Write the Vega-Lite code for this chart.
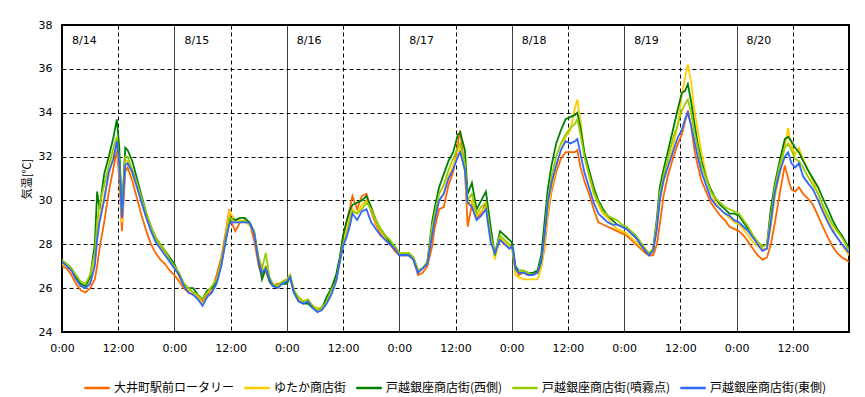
{
  "$schema": "https://vega.github.io/schema/vega-lite/v6.json",
  "width": 787,
  "height": 307,
  "autosize": "none",
  "padding": {"left": 62, "top": 25, "right": 16, "bottom": 65},
  "background": "white",
  "config": {
    "view": {"stroke": "black", "strokeWidth": 2},
    "font": "DejaVu Sans"
  },
  "datasets": {
    "temps": [
      {"t":0,"a":27.0,"b":27.1,"c":27.2,"d":27.3,"e":27.2},
      {"t":1,"a":26.9,"b":27.0,"c":27.1,"d":27.1,"e":27.0},
      {"t":2,"a":26.6,"b":26.8,"c":26.9,"d":26.9,"e":26.8},
      {"t":3,"a":26.2,"b":26.4,"c":26.5,"d":26.6,"e":26.4},
      {"t":4,"a":25.9,"b":26.1,"c":26.2,"d":26.3,"e":26.1},
      {"t":5,"a":25.8,"b":26.0,"c":26.1,"d":26.2,"e":26.0},
      {"t":6,"a":26.0,"b":26.3,"c":26.5,"d":26.6,"e":26.2},
      {"t":7,"a":26.4,"b":27.2,"c":28.0,"d":27.6,"e":27.0},
      {"t":7.5,"a":27.0,"b":28.5,"c":30.4,"d":29.0,"e":28.2},
      {"t":8,"a":27.8,"b":29.2,"c":29.6,"d":29.8,"e":29.0},
      {"t":9,"a":29.0,"b":30.2,"c":31.2,"d":30.7,"e":30.0},
      {"t":10,"a":30.4,"b":31.2,"c":32.0,"d":31.6,"e":31.3},
      {"t":11,"a":31.5,"b":32.1,"c":32.9,"d":32.4,"e":31.9},
      {"t":11.7,"a":32.3,"b":32.6,"c":33.7,"d":32.9,"e":32.7},
      {"t":12.2,"a":31.0,"b":31.5,"c":32.5,"d":31.8,"e":31.8},
      {"t":12.8,"a":28.6,"b":29.0,"c":29.5,"d":29.3,"e":29.2},
      {"t":13.5,"a":31.3,"b":31.8,"c":32.4,"d":32.0,"e":31.6},
      {"t":14,"a":31.5,"b":31.8,"c":32.3,"d":32.0,"e":31.7},
      {"t":15,"a":30.9,"b":31.2,"c":31.8,"d":31.4,"e":31.3},
      {"t":16,"a":30.1,"b":30.6,"c":31.0,"d":30.8,"e":30.6},
      {"t":17,"a":29.3,"b":29.9,"c":30.2,"d":30.1,"e":29.9},
      {"t":18,"a":28.6,"b":29.2,"c":29.4,"d":29.4,"e":29.2},
      {"t":19,"a":28.0,"b":28.7,"c":28.8,"d":28.8,"e":28.6},
      {"t":20,"a":27.6,"b":28.2,"c":28.3,"d":28.3,"e":28.1},
      {"t":21,"a":27.3,"b":27.9,"c":28.0,"d":28.0,"e":27.8},
      {"t":22,"a":27.1,"b":27.6,"c":27.7,"d":27.7,"e":27.5},
      {"t":23,"a":26.8,"b":27.3,"c":27.4,"d":27.3,"e":27.2},
      {"t":24,"a":26.6,"b":27.0,"c":27.1,"d":27.0,"e":26.9},
      {"t":25,"a":26.3,"b":26.5,"c":26.6,"d":26.7,"e":26.6},
      {"t":26,"a":26.0,"b":26.1,"c":26.2,"d":26.2,"e":26.1},
      {"t":27,"a":25.8,"b":25.9,"c":26.0,"d":26.0,"e":25.8},
      {"t":28,"a":25.7,"b":25.8,"c":26.0,"d":25.8,"e":25.7},
      {"t":29,"a":25.6,"b":25.6,"c":25.7,"d":25.7,"e":25.5},
      {"t":30,"a":25.4,"b":25.3,"c":25.5,"d":25.5,"e":25.2},
      {"t":31,"a":25.7,"b":25.6,"c":25.9,"d":25.8,"e":25.6},
      {"t":32,"a":25.9,"b":25.8,"c":26.0,"d":26.1,"e":25.8},
      {"t":33,"a":26.6,"b":26.3,"c":26.3,"d":26.4,"e":26.2},
      {"t":34,"a":27.4,"b":27.1,"c":27.1,"d":27.2,"e":27.0},
      {"t":35,"a":28.6,"b":28.4,"c":28.3,"d":28.3,"e":28.2},
      {"t":35.7,"a":29.6,"b":29.5,"c":29.0,"d":29.2,"e":28.9},
      {"t":36,"a":29.1,"b":29.4,"c":29.2,"d":29.2,"e":29.0},
      {"t":37,"a":28.6,"b":29.1,"c":29.1,"d":29.0,"e":29.0},
      {"t":38,"a":29.0,"b":29.1,"c":29.2,"d":29.0,"e":29.0},
      {"t":39,"a":29.1,"b":29.0,"c":29.2,"d":29.1,"e":29.0},
      {"t":40,"a":29.0,"b":28.9,"c":29.0,"d":28.9,"e":29.0},
      {"t":41,"a":28.2,"b":28.5,"c":28.6,"d":28.6,"e":28.5},
      {"t":42,"a":27.0,"b":27.3,"c":27.2,"d":27.4,"e":27.2},
      {"t":42.7,"a":26.6,"b":26.8,"c":26.4,"d":26.9,"e":26.7},
      {"t":43.5,"a":26.8,"b":27.0,"c":26.9,"d":27.6,"e":26.9},
      {"t":44.3,"a":26.3,"b":26.4,"c":26.3,"d":26.5,"e":26.4},
      {"t":45,"a":26.1,"b":26.2,"c":26.1,"d":26.2,"e":26.1},
      {"t":46,"a":26.2,"b":26.1,"c":26.1,"d":26.1,"e":26.0},
      {"t":47,"a":26.2,"b":26.3,"c":26.2,"d":26.3,"e":26.2},
      {"t":48,"a":26.3,"b":26.3,"c":26.2,"d":26.4,"e":26.3},
      {"t":48.7,"a":26.5,"b":26.6,"c":26.5,"d":26.6,"e":26.5},
      {"t":49.5,"a":25.9,"b":25.9,"c":25.8,"d":25.9,"e":25.8},
      {"t":50.5,"a":25.5,"b":25.5,"c":25.4,"d":25.6,"e":25.4},
      {"t":51.5,"a":25.3,"b":25.3,"c":25.3,"d":25.4,"e":25.3},
      {"t":52.5,"a":25.4,"b":25.4,"c":25.3,"d":25.5,"e":25.4},
      {"t":53.5,"a":25.2,"b":25.2,"c":25.1,"d":25.2,"e":25.1},
      {"t":54.5,"a":25.0,"b":25.1,"c":25.0,"d":25.0,"e":24.9},
      {"t":55.5,"a":25.1,"b":25.1,"c":25.1,"d":25.1,"e":25.0},
      {"t":56.5,"a":25.4,"b":25.4,"c":25.6,"d":25.4,"e":25.3},
      {"t":57.5,"a":25.9,"b":25.8,"c":26.0,"d":25.9,"e":25.7},
      {"t":58.5,"a":26.5,"b":26.3,"c":26.6,"d":26.3,"e":26.3},
      {"t":59.3,"a":27.3,"b":27.2,"c":27.4,"d":27.2,"e":27.2},
      {"t":60,"a":28.3,"b":28.0,"c":28.4,"d":28.0,"e":27.9},
      {"t":60.7,"a":29.0,"b":28.6,"c":29.0,"d":28.4,"e":28.3},
      {"t":61.4,"a":29.6,"b":29.2,"c":29.5,"d":29.0,"e":28.8},
      {"t":62,"a":30.2,"b":29.6,"c":29.8,"d":29.5,"e":29.4},
      {"t":63,"a":29.6,"b":29.4,"c":29.9,"d":29.4,"e":29.1},
      {"t":64,"a":30.2,"b":29.8,"c":30.0,"d":29.6,"e":29.5},
      {"t":65,"a":30.3,"b":30.0,"c":30.2,"d":29.9,"e":29.6},
      {"t":66,"a":29.5,"b":29.6,"c":29.7,"d":29.6,"e":29.0},
      {"t":67,"a":28.9,"b":29.0,"c":29.1,"d":29.1,"e":28.7},
      {"t":68,"a":28.5,"b":28.6,"c":28.7,"d":28.7,"e":28.4},
      {"t":69,"a":28.2,"b":28.3,"c":28.4,"d":28.4,"e":28.2},
      {"t":70,"a":28.0,"b":28.1,"c":28.1,"d":28.2,"e":28.0},
      {"t":71,"a":27.7,"b":27.9,"c":27.9,"d":27.9,"e":27.8},
      {"t":72,"a":27.5,"b":27.6,"c":27.6,"d":27.6,"e":27.5},
      {"t":73,"a":27.5,"b":27.6,"c":27.5,"d":27.6,"e":27.5},
      {"t":74,"a":27.5,"b":27.6,"c":27.6,"d":27.6,"e":27.5},
      {"t":75,"a":27.3,"b":27.4,"c":27.4,"d":27.4,"e":27.3},
      {"t":76,"a":26.6,"b":26.8,"c":26.8,"d":26.8,"e":26.7},
      {"t":77,"a":26.7,"b":26.9,"c":26.9,"d":26.9,"e":26.9},
      {"t":78,"a":27.0,"b":27.2,"c":27.2,"d":27.2,"e":27.1},
      {"t":79,"a":27.9,"b":28.6,"c":29.0,"d":28.8,"e":28.4},
      {"t":79.5,"a":28.7,"b":29.2,"c":29.6,"d":29.3,"e":29.0},
      {"t":80.5,"a":29.6,"b":30.0,"c":30.6,"d":30.3,"e":30.0},
      {"t":81.5,"a":29.7,"b":30.3,"c":31.2,"d":30.7,"e":30.3},
      {"t":82.5,"a":30.7,"b":31.1,"c":31.8,"d":31.4,"e":31.0},
      {"t":83.5,"a":31.3,"b":31.6,"c":32.2,"d":31.9,"e":31.4},
      {"t":84.5,"a":32.6,"b":32.1,"c":33.0,"d":32.4,"e":32.0},
      {"t":85,"a":33.2,"b":32.4,"c":33.1,"d":32.6,"e":32.2},
      {"t":86,"a":31.4,"b":31.3,"c":32.3,"d":31.7,"e":31.4},
      {"t":86.6,"a":28.8,"b":29.8,"c":30.3,"d":30.0,"e":29.9},
      {"t":87.5,"a":29.8,"b":30.0,"c":30.8,"d":30.3,"e":29.7},
      {"t":88.5,"a":29.2,"b":29.3,"c":29.6,"d":29.4,"e":29.1},
      {"t":89.5,"a":29.4,"b":29.5,"c":30.0,"d":29.7,"e":29.3},
      {"t":90.5,"a":29.9,"b":29.7,"c":30.4,"d":29.9,"e":29.6},
      {"t":91.5,"a":28.3,"b":28.5,"c":28.8,"d":28.4,"e":28.1},
      {"t":92.4,"a":27.6,"b":27.3,"c":27.5,"d":27.6,"e":27.6},
      {"t":93.5,"a":28.2,"b":28.3,"c":28.6,"d":28.4,"e":28.2},
      {"t":94.5,"a":28.0,"b":28.1,"c":28.4,"d":28.2,"e":28.0},
      {"t":95.5,"a":27.9,"b":27.9,"c":28.2,"d":28.0,"e":27.8},
      {"t":96,"a":27.9,"b":27.9,"c":28.1,"d":27.9,"e":27.9},
      {"t":96.3,"a":27.6,"b":27.5,"c":27.8,"d":27.6,"e":27.7},
      {"t":96.8,"a":26.9,"b":26.6,"c":27.0,"d":26.8,"e":26.9},
      {"t":97.5,"a":26.6,"b":26.5,"c":26.8,"d":26.8,"e":26.7},
      {"t":98.5,"a":26.7,"b":26.4,"c":26.8,"d":26.8,"e":26.7},
      {"t":99.5,"a":26.6,"b":26.4,"c":26.7,"d":26.7,"e":26.6},
      {"t":100.5,"a":26.7,"b":26.4,"c":26.7,"d":26.6,"e":26.6},
      {"t":101.5,"a":26.7,"b":26.4,"c":26.8,"d":26.7,"e":26.7},
      {"t":102.3,"a":27.0,"b":26.9,"c":27.5,"d":27.2,"e":27.2},
      {"t":103,"a":27.8,"b":28.0,"c":29.0,"d":28.4,"e":28.4},
      {"t":103.7,"a":29.3,"b":29.5,"c":30.5,"d":30.0,"e":29.9},
      {"t":104.5,"a":30.4,"b":30.6,"c":31.6,"d":31.1,"e":30.8},
      {"t":105.5,"a":31.3,"b":31.5,"c":32.6,"d":32.0,"e":31.6},
      {"t":106.5,"a":31.9,"b":32.3,"c":33.2,"d":32.6,"e":32.3},
      {"t":107.5,"a":32.2,"b":32.9,"c":33.7,"d":33.0,"e":32.7},
      {"t":108.5,"a":32.2,"b":33.2,"c":33.8,"d":33.3,"e":32.6},
      {"t":109.5,"a":32.2,"b":34.2,"c":33.9,"d":33.5,"e":32.7},
      {"t":110,"a":32.3,"b":34.6,"c":34.0,"d":33.7,"e":32.8},
      {"t":110.7,"a":31.5,"b":33.6,"c":33.3,"d":33.0,"e":32.1},
      {"t":111.5,"a":30.9,"b":32.1,"c":32.2,"d":32.0,"e":31.3},
      {"t":112.5,"a":30.3,"b":31.1,"c":31.4,"d":31.2,"e":30.6},
      {"t":113.5,"a":29.6,"b":30.3,"c":30.6,"d":30.4,"e":29.9},
      {"t":114.5,"a":29.0,"b":29.8,"c":30.0,"d":29.9,"e":29.4},
      {"t":115.5,"a":28.9,"b":29.4,"c":29.6,"d":29.5,"e":29.2},
      {"t":116.5,"a":28.8,"b":29.2,"c":29.3,"d":29.3,"e":29.0},
      {"t":117.5,"a":28.7,"b":28.9,"c":29.1,"d":29.2,"e":28.9},
      {"t":118.5,"a":28.6,"b":28.7,"c":28.9,"d":29.1,"e":28.9},
      {"t":119.5,"a":28.5,"b":28.6,"c":28.8,"d":28.9,"e":28.8},
      {"t":120.5,"a":28.4,"b":28.5,"c":28.7,"d":28.8,"e":28.7},
      {"t":121.5,"a":28.2,"b":28.3,"c":28.5,"d":28.6,"e":28.5},
      {"t":122.5,"a":28.0,"b":28.1,"c":28.3,"d":28.4,"e":28.3},
      {"t":123.5,"a":27.8,"b":27.9,"c":28.0,"d":28.1,"e":28.0},
      {"t":124.5,"a":27.6,"b":27.7,"c":27.7,"d":27.8,"e":27.7},
      {"t":125.3,"a":27.5,"b":27.5,"c":27.5,"d":27.6,"e":27.5},
      {"t":126.2,"a":27.5,"b":27.7,"c":27.8,"d":27.8,"e":27.7},
      {"t":127,"a":28.0,"b":28.8,"c":29.2,"d":29.0,"e":28.7},
      {"t":127.6,"a":28.9,"b":30.0,"c":30.6,"d":30.3,"e":30.0},
      {"t":128.4,"a":30.2,"b":30.9,"c":31.4,"d":31.1,"e":30.9},
      {"t":129.3,"a":31.1,"b":31.6,"c":32.2,"d":31.9,"e":31.5},
      {"t":130.4,"a":31.9,"b":32.4,"c":33.2,"d":32.8,"e":32.2},
      {"t":131.5,"a":32.6,"b":33.5,"c":34.2,"d":33.5,"e":32.9},
      {"t":132.3,"a":33.0,"b":34.8,"c":34.9,"d":34.1,"e":33.2},
      {"t":133,"a":33.6,"b":35.6,"c":35.0,"d":34.4,"e":33.7},
      {"t":133.6,"a":34.1,"b":36.2,"c":35.3,"d":34.6,"e":34.0},
      {"t":134.3,"a":33.4,"b":35.4,"c":34.5,"d":34.0,"e":33.4},
      {"t":135,"a":32.3,"b":34.1,"c":33.5,"d":33.1,"e":32.7},
      {"t":135.7,"a":31.6,"b":33.2,"c":32.6,"d":32.4,"e":32.0},
      {"t":136.5,"a":30.9,"b":32.2,"c":31.8,"d":31.6,"e":31.3},
      {"t":137.5,"a":30.4,"b":31.2,"c":31.0,"d":31.0,"e":30.7},
      {"t":138.5,"a":29.9,"b":30.4,"c":30.5,"d":30.4,"e":30.1},
      {"t":139.5,"a":29.6,"b":29.9,"c":30.1,"d":30.1,"e":29.8},
      {"t":140.5,"a":29.3,"b":29.6,"c":29.8,"d":29.9,"e":29.6},
      {"t":141.5,"a":29.1,"b":29.4,"c":29.6,"d":29.7,"e":29.4},
      {"t":142.5,"a":28.8,"b":29.2,"c":29.4,"d":29.6,"e":29.3},
      {"t":143.5,"a":28.7,"b":29.0,"c":29.4,"d":29.5,"e":29.1},
      {"t":144.5,"a":28.6,"b":28.9,"c":29.3,"d":29.4,"e":29.0},
      {"t":145.5,"a":28.4,"b":28.7,"c":29.0,"d":29.1,"e":28.8},
      {"t":146.5,"a":28.1,"b":28.4,"c":28.7,"d":28.8,"e":28.6},
      {"t":147.5,"a":27.8,"b":28.1,"c":28.4,"d":28.4,"e":28.3},
      {"t":148.5,"a":27.5,"b":27.9,"c":28.1,"d":28.1,"e":28.0},
      {"t":149.5,"a":27.3,"b":27.8,"c":27.9,"d":27.9,"e":27.7},
      {"t":150.5,"a":27.4,"b":27.8,"c":28.0,"d":28.0,"e":27.8},
      {"t":151.3,"a":28.0,"b":28.8,"c":29.6,"d":29.3,"e":29.0},
      {"t":152.2,"a":29.0,"b":30.2,"c":30.8,"d":30.6,"e":30.4},
      {"t":153.2,"a":30.3,"b":31.2,"c":31.8,"d":31.6,"e":31.3},
      {"t":154.3,"a":31.6,"b":32.5,"c":32.8,"d":32.4,"e":32.0},
      {"t":155,"a":31.0,"b":33.3,"c":32.9,"d":32.6,"e":32.2},
      {"t":155.7,"a":30.5,"b":32.5,"c":32.7,"d":32.3,"e":31.7},
      {"t":156.5,"a":30.4,"b":32.1,"c":32.4,"d":31.9,"e":31.5},
      {"t":157.3,"a":30.6,"b":32.4,"c":32.2,"d":31.8,"e":31.7},
      {"t":158.2,"a":30.3,"b":31.9,"c":31.8,"d":31.5,"e":31.1},
      {"t":159.2,"a":30.1,"b":31.4,"c":31.4,"d":31.1,"e":30.8},
      {"t":160.3,"a":29.8,"b":30.9,"c":31.0,"d":30.7,"e":30.5},
      {"t":161.4,"a":29.3,"b":30.3,"c":30.6,"d":30.3,"e":30.0},
      {"t":162.4,"a":28.8,"b":29.7,"c":30.1,"d":29.8,"e":29.5},
      {"t":163.5,"a":28.3,"b":29.1,"c":29.6,"d":29.3,"e":29.0},
      {"t":164.5,"a":27.9,"b":28.7,"c":29.1,"d":28.9,"e":28.6},
      {"t":165.5,"a":27.6,"b":28.3,"c":28.7,"d":28.6,"e":28.3},
      {"t":166.5,"a":27.4,"b":28.0,"c":28.4,"d":28.3,"e":28.0},
      {"t":167.3,"a":27.3,"b":27.7,"c":28.1,"d":28.0,"e":27.8},
      {"t":168,"a":27.2,"b":27.5,"c":27.8,"d":27.7,"e":27.6}
    ]
  },
  "layer": [
    {
      "data": {"name": "temps"},
      "transform": [{"fold": ["a", "b", "c", "d", "e"], "as": ["site", "temp"]}],
      "mark": {"type": "line", "strokeWidth": 1.8, "clip": true},
      "encoding": {
        "x": {
          "field": "t",
          "type": "quantitative",
          "scale": {"domain": [0, 168], "nice": false, "zero": false},
          "axis": {
            "values": [0, 12, 24, 36, 48, 60, 72, 84, 96, 108, 120, 132, 144, 156],
            "labelExpr": "datum.value % 24 === 0 ? '0:00' : '12:00'",
            "title": null,
            "grid": true,
            "gridColor": "black",
            "gridOpacity": 1,
            "gridWidth": 1,
            "gridDash": {"condition": {"test": "datum.value % 24 === 0", "value": [1, 0]}, "value": [4, 3]},
            "ticks": false,
            "domain": false,
            "labelPadding": 10,
            "labelFontSize": 11,
            "labelColor": "black",
            "labelFlush": false,
            "labelFont": "DejaVu Sans"
          }
        },
        "y": {
          "field": "temp",
          "type": "quantitative",
          "scale": {"domain": [24, 38], "nice": false, "zero": false},
          "axis": {
            "values": [24, 26, 28, 30, 32, 34, 36, 38],
            "title": "気温[℃]",
            "titleFont": "Noto Sans CJK JP",
            "titleFontWeight": "normal",
            "titleFontSize": 11,
            "titleColor": "black",
            "titlePadding": 6,
            "grid": true,
            "gridColor": "black",
            "gridOpacity": 1,
            "gridWidth": 1,
            "gridDash": [4, 3],
            "ticks": false,
            "domain": false,
            "labelPadding": 10,
            "labelFontSize": 11,
            "labelColor": "black",
            "labelFont": "DejaVu Sans"
          }
        },
        "color": {
          "field": "site",
          "type": "nominal",
          "scale": {
            "domain": ["a", "b", "c", "d", "e"],
            "range": ["#FF6600", "#FFCC00", "#008000", "#99CC00", "#3366FF"]
          },
          "legend": {
            "orient": "none",
            "legendX": 21,
            "legendY": 349,
            "direction": "horizontal",
            "columns": 5,
            "title": null,
            "padding": 0,
            "symbolType": "stroke",
            "symbolSize": 650,
            "symbolStrokeWidth": 2.5,
            "labelFont": "Noto Sans CJK JP",
            "labelFontSize": 12,
            "labelColor": "black",
            "labelOffset": 3,
            "columnPadding": 4,
            "labelLimit": 300,
            "labelExpr": "datum.label === 'a' ? '大井町駅前ロータリー' : datum.label === 'b' ? 'ゆたか商店街' : datum.label === 'c' ? '戸越銀座商店街(西側)' : datum.label === 'd' ? '戸越銀座商店街(噴霧点)' : '戸越銀座商店街(東側)'"
          }
        }
      }
    },
    {
      "data": {
        "values": [
          {"t": 0, "day": "8/14"},
          {"t": 24, "day": "8/15"},
          {"t": 48, "day": "8/16"},
          {"t": 72, "day": "8/17"},
          {"t": 96, "day": "8/18"},
          {"t": 120, "day": "8/19"},
          {"t": 144, "day": "8/20"}
        ]
      },
      "mark": {"type": "text", "align": "left", "baseline": "middle", "dx": 10, "fontSize": 11, "font": "DejaVu Sans", "color": "black"},
      "encoding": {
        "x": {"field": "t", "type": "quantitative"},
        "y": {"datum": 37.27, "type": "quantitative"},
        "text": {"field": "day"}
      }
    }
  ]
}
